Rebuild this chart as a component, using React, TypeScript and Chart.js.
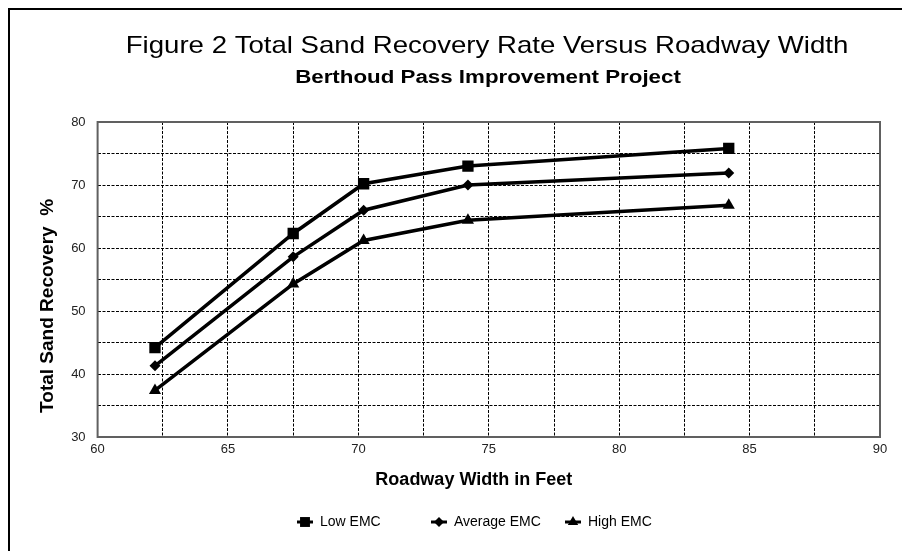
import React, { useEffect, useRef } from "react";
import { Chart, registerables } from "chart.js";

Chart.register(...registerables);

// ---- data ----
const roadwayWidths = [62.2, 67.5, 70.2, 74.2, 84.2];
const lowEMC = [44.2, 62.3, 70.2, 73.0, 75.8];
const averageEMC = [41.3, 58.6, 66.0, 70.0, 71.9];
const highEMC = [37.4, 54.3, 61.2, 64.4, 66.8];
const seriesLabels = ["Low EMC", "Average EMC", "High EMC"];
const seriesMarkers = ["rect", "rectRot", "triangle"];
const titleText = "Figure 2 Total Sand Recovery Rate Versus Roadway Width";
const subtitleText = "Berthoud Pass Improvement Project";
const xAxisTitle = "Roadway Width in Feet";
const yAxisTitle = "Total Sand Recovery  %";

const FONT = "'Liberation Sans', Arial, Helvetica, sans-serif";

function drawStretched(ctx: CanvasRenderingContext2D, text: string, cx: number, y: number, font: string, sx: number) {
  ctx.save();
  ctx.translate(cx, y);
  ctx.scale(sx, 1);
  ctx.font = font;
  ctx.fillStyle = "#000";
  ctx.textAlign = "center";
  ctx.textBaseline = "alphabetic";
  ctx.fillText(text, 0, 0);
  ctx.restore();
}

function drawMarker(ctx: CanvasRenderingContext2D, style: string, x: number, y: number, r: number) {
  ctx.beginPath();
  if (style === "rect") {
    const s = r * Math.SQRT1_2;
    ctx.rect(x - s, y - s, 2 * s, 2 * s);
  } else if (style === "rectRot") {
    ctx.moveTo(x, y - r);
    ctx.lineTo(x + r, y);
    ctx.lineTo(x, y + r);
    ctx.lineTo(x - r, y);
    ctx.closePath();
  } else {
    const h = r * 1.5;
    const w = r * Math.sqrt(3) / 2;
    ctx.moveTo(x, y - h * 2 / 3);
    ctx.lineTo(x + w, y + h / 3);
    ctx.lineTo(x - w, y + h / 3);
    ctx.closePath();
  }
  ctx.fill();
}

const decorPlugin = {
  id: "decor",
  afterDraw(chart: any) {
    const ctx: CanvasRenderingContext2D = chart.ctx;
    const a = chart.chartArea;
    ctx.save();
    ctx.setLineDash([]);
    // plot frame
    ctx.strokeStyle = "#606060";
    ctx.lineWidth = 2;
    ctx.strokeRect(a.left, a.top, a.right - a.left, a.bottom - a.top);
    // titles
    drawStretched(ctx, titleText, 477, 43, `24px ${FONT}`, 1.15);
    drawStretched(ctx, subtitleText, 478, 73, `bold 18px ${FONT}`, 1.24);
    // legend
    const legendY = 512;
    const startX = 295;
    const step = 134;
    chart.data.datasets.forEach((ds: any, i: number) => {
      const cx = startX + i * step;
      ctx.strokeStyle = "#000";
      ctx.fillStyle = "#000";
      ctx.lineWidth = 3;
      ctx.beginPath();
      ctx.moveTo(cx - 8, legendY);
      ctx.lineTo(cx + 8, legendY);
      ctx.stroke();
      const r = ds.pointStyle === "rect" ? 7 : ds.pointStyle === "rectRot" ? 5 : 6;
      drawMarker(ctx, ds.pointStyle, cx, legendY, r);
      ctx.font = `14px ${FONT}`;
      ctx.textAlign = "left";
      ctx.textBaseline = "middle";
      ctx.fillText(ds.label, cx + 15, legendY);
    });
    ctx.restore();
  },
};

export default function App() {
  const canvasRef = useRef<HTMLCanvasElement | null>(null);

  useEffect(() => {
    if (!canvasRef.current) return;
    const series = [lowEMC, averageEMC, highEMC];
    const datasets = series.map((vals, i) => ({
      label: seriesLabels[i],
      data: roadwayWidths.map((x, j) => ({ x, y: vals[j] })),
      showLine: true,
      borderColor: "#000",
      backgroundColor: "#000",
      borderWidth: 3.5,
      pointStyle: seriesMarkers[i],
      pointRadius: i === 0 ? 8 : i === 1 ? 5.5 : 7,
      pointBorderWidth: 0,
      tension: 0,
    }));

    const chart = new Chart(canvasRef.current, {
      type: "scatter",
      data: { datasets },
      options: {
        animation: false,
        responsive: false,
        layout: { padding: { top: 112, right: 22, bottom: 0, left: 0 } },
        plugins: {
          legend: { display: false },
          tooltip: { enabled: false },
          title: { display: false },
        },
        scales: {
          x: {
            type: "linear",
            min: 60,
            max: 90,
            ticks: {
              stepSize: 2.5,
              autoSkip: false,
              maxRotation: 0,
              padding: 5,
              color: "#222",
              font: { family: FONT, size: 13 },
              callback: (v: any) => (Number(v) % 5 === 0 ? String(v) : ""),
            },
            grid: { color: "#000", lineWidth: 1, drawTicks: false },
            border: { display: false, dash: [3, 1.5] },
            title: {
              display: true,
              text: xAxisTitle + "      ",
              color: "#000",
              font: { family: FONT, size: 18, weight: "bold" },
              padding: { top: 0, bottom: 60 },
            },
            afterFit: (scale: any) => {
              scale.height = 114;
            },
          },
          y: {
            type: "linear",
            min: 30,
            max: 80,
            ticks: {
              stepSize: 5,
              padding: 12,
              color: "#222",
              font: { family: FONT, size: 13 },
              callback: (v: any) => (Number(v) % 10 === 0 ? String(v) : ""),
            },
            grid: { color: "#000", lineWidth: 1, drawTicks: false },
            border: { display: false, dash: [3, 1.5] },
            title: {
              display: true,
              text: yAxisTitle + "          ",
              color: "#000",
              font: { family: FONT, size: 19, weight: "bold" },
              padding: { top: 26, bottom: 0 },
            },
            afterFit: (scale: any) => {
              scale.width = 87.6;
            },
          },
        },
      } as any,
      plugins: [decorPlugin],
    });
    return () => chart.destroy();
  }, []);

  return (
    <div
      style={{
        position: "fixed",
        left: 8,
        top: 8,
        width: 894,
        height: 543,
        boxSizing: "border-box",
        borderLeft: "2px solid #000",
        borderTop: "2px solid #000",
        background: "#fff",
      }}
    >
      <canvas ref={canvasRef} width={892} height={541} style={{ display: "block" }} />
    </div>
  );
}
